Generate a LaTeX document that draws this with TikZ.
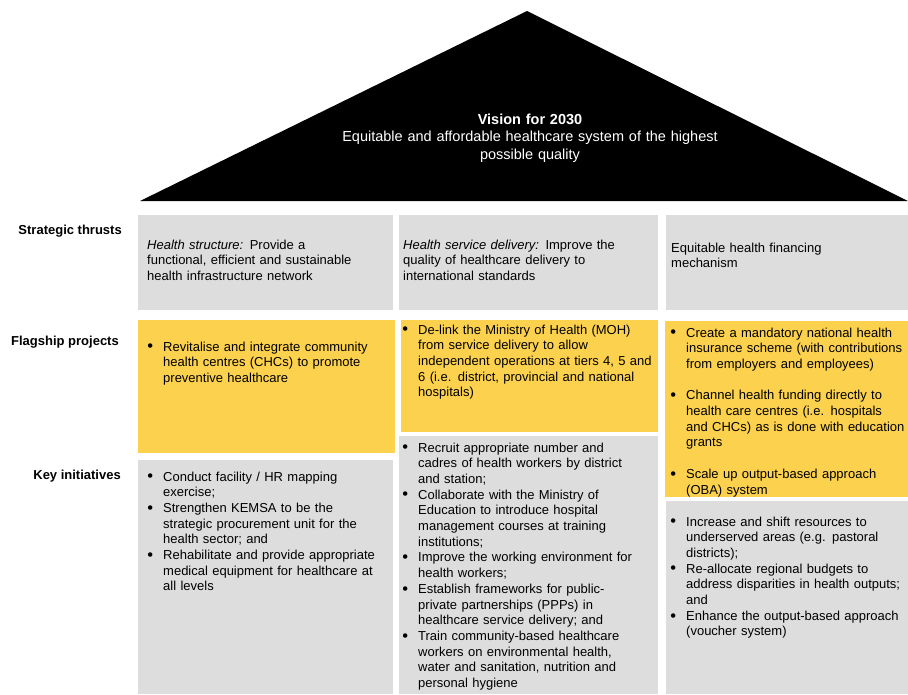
\documentclass[tikz,border=0pt]{standalone}
\usepackage{fontspec}
\setmainfont{Liberation Sans}
\definecolor{boxgray}{HTML}{DDDDDD}
\definecolor{boxyellow}{HTML}{FCD14E}
\newcommand{\bul}[1]{\noindent\hangindent=17pt\hangafter=1\makebox[17pt][l]{\hspace{1.2pt}\raisebox{-0.8pt}{\fontsize{16.5}{16.5}\selectfont\textbullet}}#1\par}
\newcommand{\gapline}{\vskip 15.7pt}
\begin{document}
\begin{tikzpicture}[x=1pt,y=-1pt,
  graybox/.style={fill=boxgray, draw=none, inner sep=0pt, anchor=north west},
  yellowbox/.style={fill=boxyellow, draw=none, inner sep=0pt, anchor=north west},
  bodytxt/.style={anchor=base west, inner sep=0pt, align=left, text width=#1,
    font=\fontsize{13}{15.7}\selectfont},
  bullettxt/.style={anchor=base west, inner sep=0pt, text width=#1,
    font=\fontsize{13}{15.7}\selectfont},
  rowlabel/.style={anchor=base east, inner sep=0pt, font=\fontsize{13}{15.7}\selectfont\bfseries},
  visiontxt/.style={anchor=base, inner sep=0pt, align=center, text width=420pt, text=white,
    font=\fontsize{14.5}{17.5}\selectfont}]
\useasboundingbox (0,0) rectangle (908,694);
% roof
\fill[black] (140,201) -- (527,11) -- (908,201) -- cycle;
\node[visiontxt] (vision) at (530,124) {\textbf{Vision for 2030}\\Equitable and affordable healthcare system of the highest\\possible quality};
% row labels
\node[rowlabel] (lst) at (122,234) {Strategic thrusts};
\node[rowlabel] (lfp) at (119,345) {Flagship projects};
\node[rowlabel] (lki) at (121,479) {Key initiatives};
% boxes
\node[graybox, minimum width=255pt, minimum height=95pt] (st1) at (138,215) {};
\node[graybox, minimum width=259pt, minimum height=95pt] (st2) at (399,215) {};
\node[graybox, minimum width=242pt, minimum height=95pt] (st3) at (666,215) {};
\node[yellowbox, minimum width=257pt, minimum height=133pt] (fp1) at (138,320) {};
\node[yellowbox, minimum width=257pt, minimum height=112pt] (fp2) at (401,320) {};
\node[yellowbox, minimum width=243pt, minimum height=176pt] (fp3) at (665,321) {};
\node[graybox, minimum width=255pt, minimum height=234pt] (ki1) at (138,460) {};
\node[graybox, minimum width=259pt, minimum height=258pt] (ki2) at (399,436) {};
\node[graybox, minimum width=242pt, minimum height=193pt] (ki3) at (666,501) {};
% strategic thrusts text
\node[bodytxt=250pt] (tst1) at (147,249) {{\itshape Health structure:} Provide a\\functional, efficient and sustainable\\health infrastructure network};
\node[bodytxt=250pt] (tst2) at (403,249) {{\itshape Health service delivery:} Improve the\\quality of healthcare delivery to\\international standards};
\node[bodytxt=235pt] (tst3) at (671,252) {Equitable health financing\\mechanism};
% flagship projects text
\node[bullettxt=250pt] (tfp1) at (146,351) {\bul{Revitalise and integrate community\newline health centres (CHCs) to promote\newline preventive healthcare}};
\node[bullettxt=255pt] (tfp2) at (401,334) {\bul{De-link the Ministry of Health (MOH)\newline from service delivery to allow\newline independent operations at tiers 4, 5 and\newline 6 (i.e. district, provincial and national\newline hospitals)}};
\node[bullettxt=240pt] (tfp3) at (669,337) {\bul{Create a mandatory national health\newline insurance scheme (with contributions\newline from employers and employees)}\gapline
\bul{Channel health funding directly to\newline health care centres (i.e. hospitals\newline and CHCs) as is done with education\newline grants}\gapline
\bul{Scale up output-based approach\newline (OBA) system}};
% key initiatives text
\node[bullettxt=250pt] (tki1) at (146,481) {\bul{Conduct facility / HR mapping\newline exercise;}\bul{Strengthen KEMSA to be the\newline strategic procurement unit for the\newline health sector; and}\bul{Rehabilitate and provide appropriate\newline medical equipment for healthcare at\newline all levels}};
\node[bullettxt=255pt] (tki2) at (401,452) {\bul{Recruit appropriate number and\newline cadres of health workers by district\newline and station;}\bul{Collaborate with the Ministry of\newline Education to introduce hospital\newline management courses at training\newline institutions;}\bul{Improve the working environment for\newline health workers;}\bul{Establish frameworks for public-\newline private partnerships (PPPs) in\newline healthcare service delivery; and}\bul{Train community-based healthcare\newline workers on environmental health,\newline water and sanitation, nutrition and\newline personal hygiene}};
\node[bullettxt=240pt] (tki3) at (669,526) {\bul{Increase and shift resources to\newline underserved areas (e.g. pastoral\newline districts);}\bul{Re-allocate regional budgets to\newline address disparities in health outputs;\newline and}\bul{Enhance the output-based approach\newline (voucher system)}};
\end{tikzpicture}
\end{document}
